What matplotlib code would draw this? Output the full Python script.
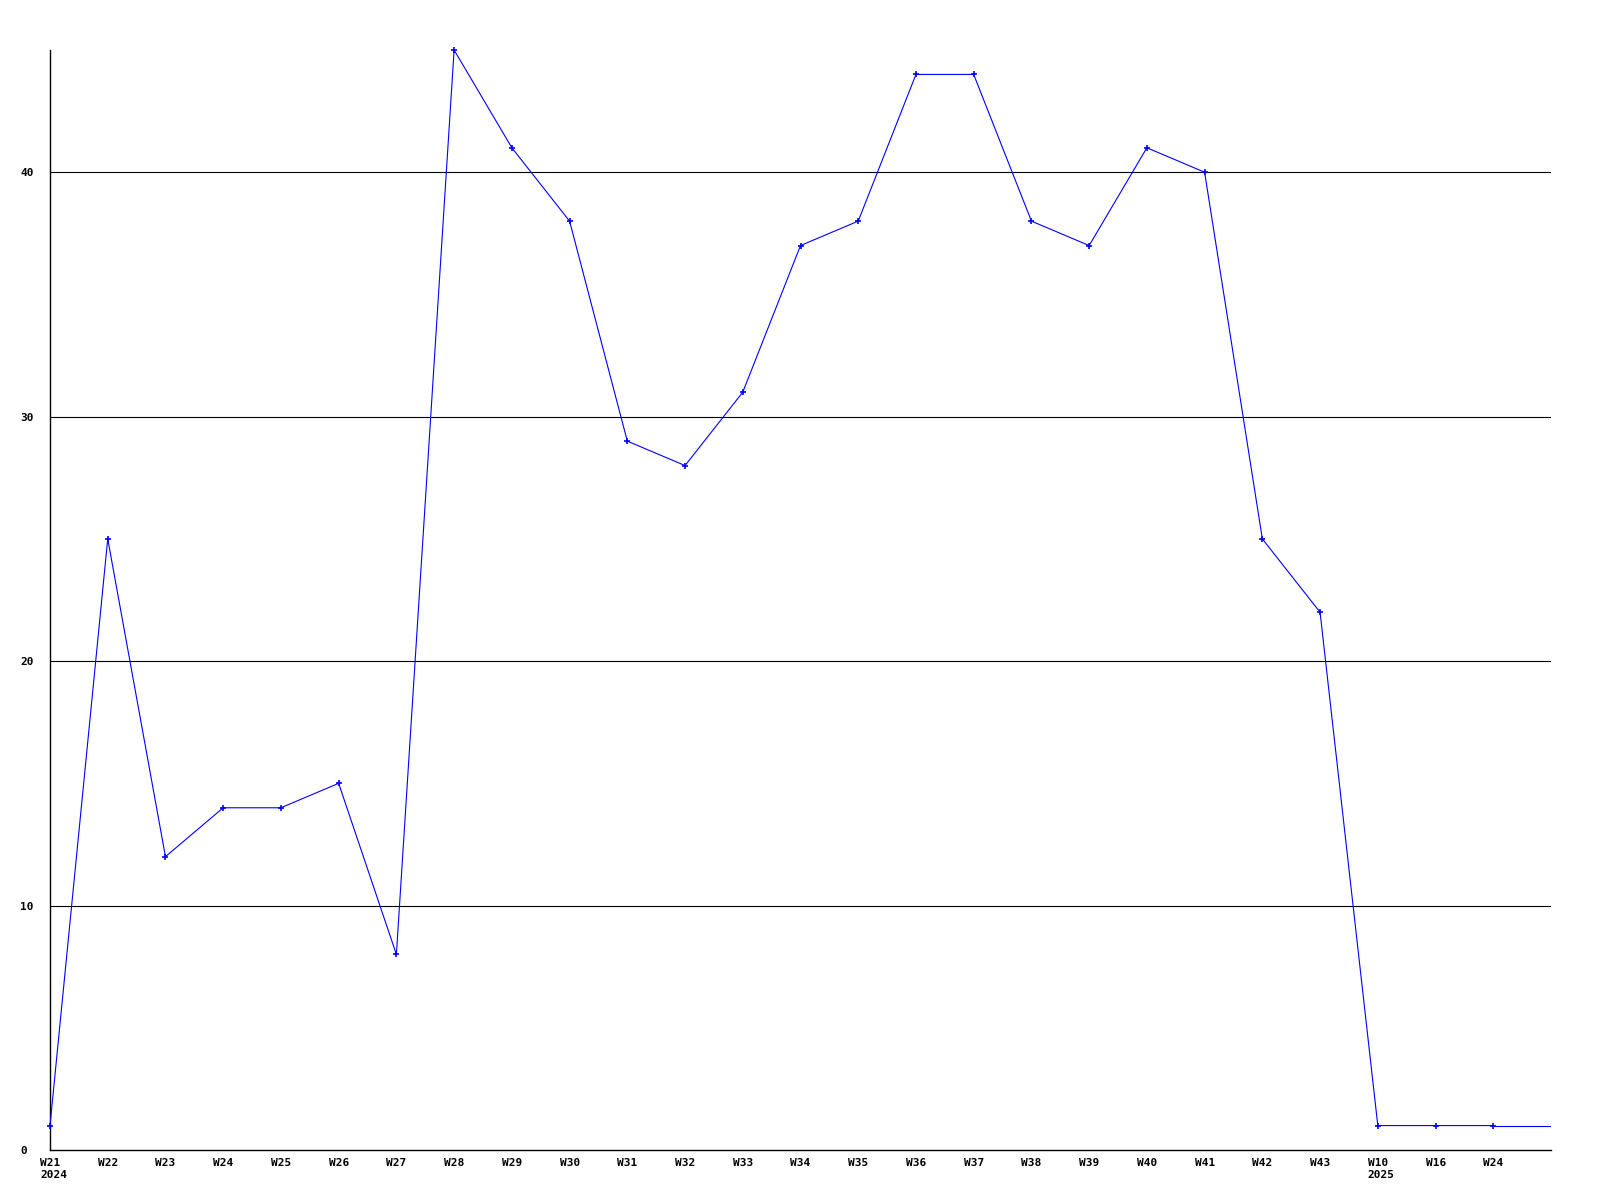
import matplotlib
matplotlib.use("Agg")
import matplotlib.pyplot as plt
import matplotlib.transforms as mtransforms

# weekly counts
weeks = ["W21\n2024", "W22", "W23", "W24", "W25", "W26", "W27", "W28", "W29",
         "W30", "W31", "W32", "W33", "W34", "W35", "W36", "W37", "W38", "W39",
         "W40", "W41", "W42", "W43", "W10\n2025", "W16", "W24"]
counts = [1, 25, 12, 14, 14, 15, 8, 45, 41, 38, 29, 28, 31, 37, 38, 44, 44,
          38, 37, 41, 40, 25, 22, 1, 1, 1]
y_ticks = [0, 10, 20, 30, 40]

fig = plt.figure(figsize=(16, 12), dpi=100)
ax = fig.add_axes([50 / 1600, 50 / 1200, 1501 / 1600, 1100 / 1200])

x = list(range(len(counts)))
ax.plot(x, counts, color="#0000ff", lw=0.8, marker="+", ms=4, mew=1.2,
        clip_on=False, zorder=3)
# last value carried to the right edge
ax.plot([x[-1], len(counts)], [counts[-1], counts[-1]], color="#0000ff",
        lw=0.8, zorder=3)

ax.set_xlim(0, len(counts))
ax.set_ylim(0, 45)
ax.set_yticks(y_ticks)
ax.set_xticks(x)
ax.set_xticklabels(weeks)
for v in y_ticks[1:]:
    ax.axhline(v, color="black", lw=0.8)

for s in ["top", "right"]:
    ax.spines[s].set_visible(False)
for s in ["left", "bottom"]:
    ax.spines[s].set_linewidth(1.0)

ax.tick_params(length=0, labelsize=8)
ax.tick_params(axis="y", pad=0)
ax.tick_params(axis="x", pad=6)
xshift = mtransforms.ScaledTranslation(-10 / 100, 0, fig.dpi_scale_trans)
yshift = mtransforms.ScaledTranslation(-30 / 100, 0, fig.dpi_scale_trans)
for lab in ax.get_xticklabels() + ax.get_yticklabels():
    lab.set_family("DejaVu Sans Mono")
    lab.set_fontweight("bold")
for lab in ax.get_xticklabels():
    lab.set_horizontalalignment("left")
    lab.set_multialignment("left")
    lab.set_transform(lab.get_transform() + xshift)
for lab in ax.get_yticklabels():
    lab.set_horizontalalignment("left")
    lab.set_transform(lab.get_transform() + yshift)

fig.savefig("out.png", dpi=100)
